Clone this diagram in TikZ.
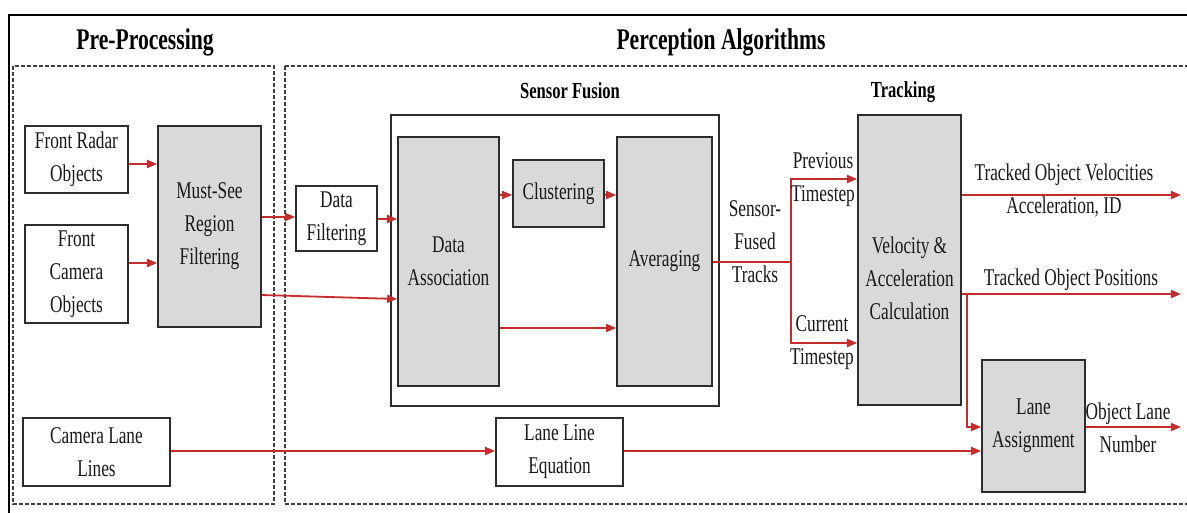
\documentclass[tikz,border=0pt]{standalone}
\usepackage{fontspec}
\setmainfont[FakeStretch=0.72]{Liberation Serif}
\usetikzlibrary{arrows.meta}
\definecolor{arrred}{RGB}{196,45,45}
\definecolor{boxgray}{RGB}{217,217,217}
\definecolor{edge}{RGB}{45,45,45}
\begin{document}
\begin{tikzpicture}[x=1pt,y=-1pt,
  txt/.style={font=\fontsize{24}{33}\selectfont, align=center, text=black!90, inner sep=0pt},
  ttl/.style={font=\fontsize{30}{36}\selectfont\bfseries, inner sep=0pt},
  subttl/.style={font=\fontsize{23}{28}\selectfont\bfseries, inner sep=0pt},
  wbox/.style={draw=edge, line width=1.6pt, fill=white, align=center, inner sep=0pt,
    font=\fontsize{24}{33}\selectfont, text=black!90},
  gbox/.style={wbox, fill=boxgray},
  dbox/.style={draw=black!75, line width=1.2pt, dash pattern=on 4pt off 2pt},
  arr/.style={draw=arrred, line width=1.8pt, -{Triangle[length=10pt,width=8pt]}},
  wire/.style={draw=arrred, line width=1.8pt}]
\useasboundingbox (0,0) rectangle (1187,513);
\fill[white] (0,0) rectangle (1187,513);
% outer frame
\draw[line width=1.8pt, black] (9,520) -- (9,15) -- (1195,15);
% dashed regions
\draw[dbox] (13,66) rectangle (274,504);
\draw[dbox] (285,66) -- (1195,66);
\draw[dbox] (1195,504) -- (285,504) -- (285,66);
% titles
\node[ttl] (tpre) at (145,42) {Pre-Processing};
\node[ttl] (tper) at (721,42) {Perception Algorithms};
\node[subttl] (tsf) at (570,91) {Sensor Fusion};
\node[subttl] (ttr) at (903,92) {Tracking};
% boxes
\node[wbox, minimum width=103pt, minimum height=67pt] (radar) at (76.5,159.5) {Front Radar\\Objects};
\node[wbox, minimum width=103pt, minimum height=98pt] (camera) at (76.5,274) {Front\\Camera\\Objects};
\node[gbox, minimum width=103pt, minimum height=201pt] (mustsee) at (209.5,226.5) {Must-See\\Region\\Filtering};
\node[wbox, minimum width=81pt, minimum height=65pt] (datafilt) at (336.5,218.5) {Data\\Filtering};
\node[wbox, minimum width=328pt, minimum height=291pt] (sfouter) at (555,260.5) {};
\node[gbox, minimum width=101pt, minimum height=249pt] (dataassoc) at (448.5,261.5) {Data\\Association};
\node[gbox, minimum width=91pt, minimum height=67pt] (clustering) at (558.5,193.5) {Clustering};
\node[gbox, minimum width=95pt, minimum height=249pt] (averaging) at (664.5,261.5) {Averaging};
\node[gbox, minimum width=103pt, minimum height=290pt] (velocity) at (909.5,260) {};
\node[txt] (veltext) at (909.5,278) {Velocity \&\\Acceleration\\Calculation};
\node[gbox, minimum width=103pt, minimum height=132pt] (laneassign) at (1033.5,426) {Lane\\Assignment};
\node[wbox, minimum width=147pt, minimum height=68pt] (cameralane) at (96.5,452) {Camera Lane\\Lines};
\node[wbox, minimum width=127pt, minimum height=68pt] (lle) at (559.5,452) {Lane Line\\Equation};
% helper coordinates
\coordinate (yA) at (0,164);
\coordinate (yB) at (0,263);
\coordinate (yC) at (0,217);
\coordinate (yD) at (0,219);
\coordinate (yE) at (0,295);
\coordinate (yF) at (0,299);
\coordinate (yG) at (0,195);
\coordinate (yH) at (0,328);
\coordinate (split) at (791,262);
\coordinate (yPrev) at (0,179);
\coordinate (yCur) at (0,343);
\coordinate (out1) at (1181,195);
\coordinate (out2) at (1181,294);
\coordinate (branch) at (967,294);
\coordinate (yLA) at (0,427);
\coordinate (out3) at (1181,427);
\coordinate (yL) at (0,451);
% connectors
\draw[arr] (radar.east |- yA) -- (mustsee.west |- yA);
\draw[arr] (camera.east |- yB) -- (mustsee.west |- yB);
\draw[arr] (mustsee.east |- yC) -- (datafilt.west |- yC);
\draw[arr] (datafilt.east |- yD) -- (dataassoc.west |- yD);
\draw[arr] (mustsee.east |- yE) -- (dataassoc.west |- yF);
\draw[arr] (dataassoc.east |- yG) -- (clustering.west |- yG);
\draw[arr] (clustering.east |- yG) -- (averaging.west |- yG);
\draw[arr] (dataassoc.east |- yH) -- (averaging.west |- yH);
\draw[wire] (averaging.east |- split) -- (split);
\draw[arr] (split) |- (velocity.west |- yPrev);
\draw[arr] (split) |- (velocity.west |- yCur);
\draw[arr] (velocity.east |- out1) -- (out1);
\draw[arr] (velocity.east |- out2) -- (out2);
\draw[arr] (branch) |- (laneassign.west |- yLA);
\draw[arr] (laneassign.east |- out3) -- (out3);
\draw[arr] (cameralane.east |- yL) -- (lle.west |- yL);
\draw[arr] (lle.east |- yL) -- (laneassign.west |- yL);
% labels
\node[txt] (sft) at (755,242) {Sensor-\\Fused\\Tracks};
\node[txt] (prev) at (823,180) {Previous\\Timestep};
\node[txt] (cur) at (822,343) {Current\\Timestep};
\node[txt] (tov) at (1064,191) {Tracked Object Velocities\\Acceleration, ID};
\node[txt] (top) at (1071,280) {Tracked Object Positions};
\node[txt] (oln) at (1128,428) {Object Lane\\Number};
\end{tikzpicture}
\end{document}
